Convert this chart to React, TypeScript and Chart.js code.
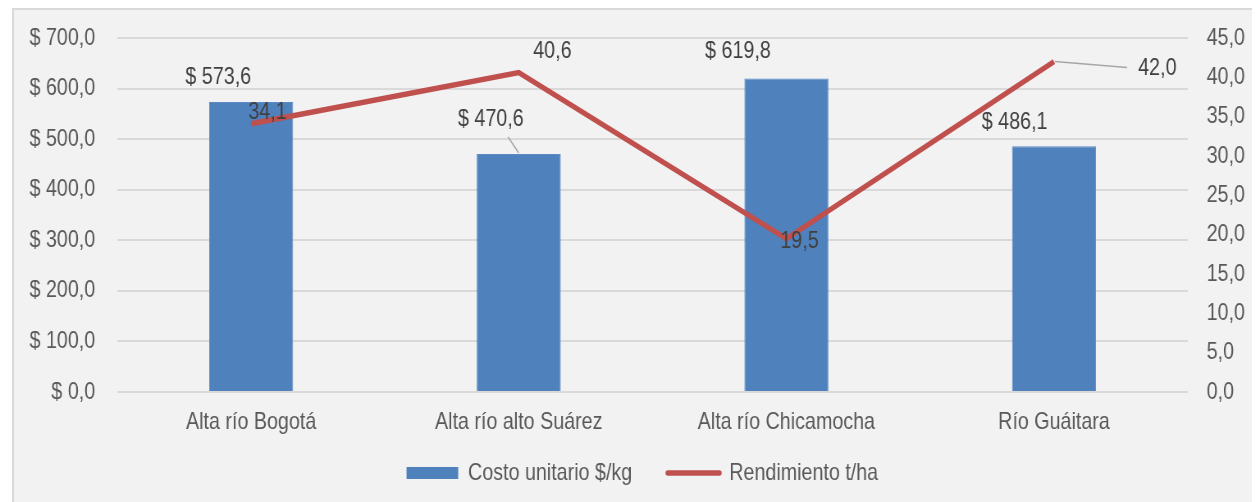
import React, { useEffect, useRef } from "react";
import { Chart, registerables } from "chart.js";

Chart.register(...registerables);

const categories = ["Alta río Bogotá", "Alta río alto Suárez", "Alta río Chicamocha", "Río Guáitara"];
const costoUnitario = [573.6, 470.6, 619.8, 486.1];
const rendimiento = [34.1, 40.6, 19.5, 42.0];
const seriesNames = ["Costo unitario $/kg", "Rendimiento t/ha"];
const leftTickStep = 100;
const rightTickStep = 5;

// Canvas is drawn wider and shown at 1260px CSS width, so text looks like a narrow face.
const CSS_W = 1260;
const CANVAS_W = 1536;
const H = 502;

// label placement styles (canvas pixel offsets from the mark)
const barLabelOffsets = [[-40, -25], [-34, -35], [-59, -27], [-48, -24]];
const lineLabelOffsets = [[20, -11], [41, -21], [16, 3], [126, 7]];
const barLeaders: Record<number, number[]> = { 1: [-13, -17, 0, -1] };
const lineLeaders: Record<number, number[]> = { 3: [1, 0, 89, 6] };

const FONT = "'Liberation Sans', Arial, sans-serif";
const fmt = (v: number) => v.toFixed(1).replace(".", ",");

const labelPlugin = {
  id: "customLabels",
  afterDatasetsDraw(chart: any) {
    const ctx = chart.ctx;
    ctx.save();
    ctx.font = `24px ${FONT}`;
    ctx.fillStyle = "#404040";
    ctx.textAlign = "center";
    ctx.textBaseline = "middle";
    const drawLeader = (x: number, y: number, l: number[]) => {
      ctx.save();
      ctx.strokeStyle = "#A6A6A6";
      ctx.lineWidth = 1.5;
      ctx.beginPath();
      ctx.moveTo(x + l[0], y + l[1]);
      ctx.lineTo(x + l[2], y + l[3]);
      ctx.stroke();
      ctx.restore();
    };
    const barMeta = chart.getDatasetMeta(0);
    barMeta.data.forEach((el: any, i: number) => {
      const [dx, dy] = barLabelOffsets[i];
      if (barLeaders[i]) drawLeader(el.x, el.y, barLeaders[i]);
      ctx.fillText("$ " + fmt(costoUnitario[i]), el.x + dx, el.y + dy);
    });
    const lineMeta = chart.getDatasetMeta(1);
    lineMeta.data.forEach((el: any, i: number) => {
      const [dx, dy] = lineLabelOffsets[i];
      if (lineLeaders[i]) drawLeader(el.x, el.y, lineLeaders[i]);
      ctx.fillText(fmt(rendimiento[i]), el.x + dx, el.y + dy);
    });
    ctx.restore();
  },
};

const legendShift = {
  id: "legendShift",
  afterLayout(chart: any) {
    if (chart.legend) {
      chart.legend.left += 15;
      chart.legend.right += 15;
    }
  },
};

export default function App() {
  const ref = useRef<HTMLCanvasElement | null>(null);
  useEffect(() => {
    if (!ref.current) return;
    Chart.defaults.font.family = FONT;
    const chart = new Chart(ref.current, {
      type: "bar",
      data: {
        labels: categories,
        datasets: [
          {
            type: "bar",
            label: seriesNames[0],
            data: costoUnitario,
            backgroundColor: "#4F81BD",
            borderColor: "#5A8AC6",
            borderWidth: 1,
            yAxisID: "y",
            categoryPercentage: 1,
            barPercentage: 0.314,
            order: 1,
          },
          {
            type: "line",
            label: seriesNames[1],
            data: rendimiento,
            borderColor: "#C0504D",
            backgroundColor: "#C0504D",
            borderWidth: 5.5,
            pointRadius: 0,
            borderJoinStyle: "miter",
            tension: 0,
            yAxisID: "y1",
            order: 0,
          },
        ],
      },
      options: {
        responsive: false,
        animation: false,
        devicePixelRatio: 1,
        layout: { padding: { left: 0, top: 38, right: 0, bottom: 7 } },
        plugins: {
          tooltip: { enabled: false },
          legend: {
            position: "bottom",
            labels: {
              usePointStyle: true,
              pointStyleWidth: 63,
              boxHeight: 12,
              padding: 10,
              color: "#595959",
              font: { size: 24, family: FONT },
              generateLabels: () => [
                {
                  text: seriesNames[0] + "     ",
                  fillStyle: "#4F81BD",
                  strokeStyle: "#4F81BD",
                  lineWidth: 0,
                  pointStyle: "rect",
                  datasetIndex: 0,
                  hidden: false,
                  fontColor: "#595959",
                },
                {
                  text: seriesNames[1],
                  fillStyle: "#C0504D",
                  strokeStyle: "#C0504D",
                  lineWidth: 5.5,
                  lineCap: "round",
                  pointStyle: "line",
                  datasetIndex: 1,
                  hidden: false,
                  fontColor: "#595959",
                },
              ],
            },
          },
        },
        scales: {
          x: {
            grid: { display: false, drawTicks: false },
            border: { display: false },
            ticks: { color: "#595959", font: { size: 24 }, padding: 16 },
            afterFit: (s: any) => { s.height = 59; },
          },
          y: {
            position: "left",
            min: 0,
            max: 700,
            grid: { color: "#D9D9D9", lineWidth: 2, drawTicks: false },
            border: { display: false },
            ticks: {
              stepSize: leftTickStep,
              color: "#595959",
              font: { size: 24 },
              padding: 27,
              callback: (v: any) => "$ " + fmt(Number(v)),
            },
            afterFit: (s: any) => { s.width = 143; s.paddingTop = 0; s.paddingBottom = 0; },
          },
          y1: {
            position: "right",
            min: 0,
            max: 45,
            grid: { display: false, drawTicks: false },
            border: { display: false },
            ticks: {
              stepSize: rightTickStep,
              color: "#595959",
              font: { size: 24 },
              padding: 23,
              callback: (v: any) => fmt(Number(v)),
            },
            afterFit: (s: any) => { s.width = 88; s.paddingTop = 0; s.paddingBottom = 0; },
          },
        },
      },
      plugins: [labelPlugin, legendShift],
    });
    return () => chart.destroy();
  }, []);

  return (
    <div style={{ position: "relative", marginLeft: -8, marginTop: -8, width: CSS_W, height: H, overflow: "hidden", background: "#FFFFFF" }}>
      <div style={{ position: "absolute", left: 12, top: 8, width: 1270, height: 510, border: "2px solid #D9D9D9", background: "#F2F2F2", boxSizing: "border-box" }} />
      <canvas ref={ref} width={CANVAS_W} height={H} style={{ position: "absolute", left: 0, top: 0, width: CSS_W, height: H, display: "block" }} />
    </div>
  );
}
